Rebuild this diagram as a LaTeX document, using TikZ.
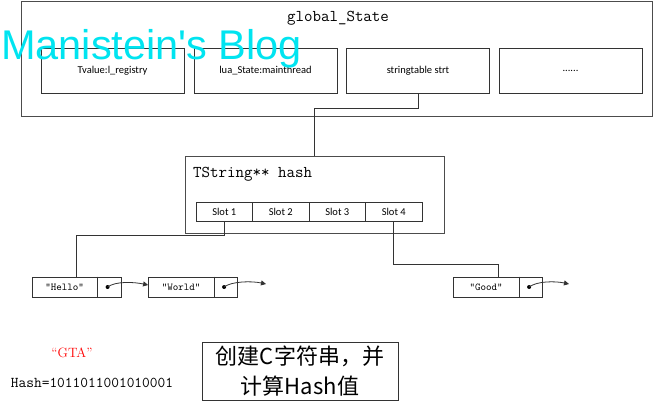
\documentclass[tikz,border=0pt]{standalone}
\usepackage{fontspec}
\newfontfamily\carl{Carlito}
\newfontfamily\wmfont{Liberation Sans}
\newfontfamily\cjk{Noto Sans CJK SC}
\usetikzlibrary{arrows.meta}
\definecolor{wmcyan}{RGB}{0,228,240}
\begin{document}
\begin{tikzpicture}[x=1pt,y=-1pt,
  box/.style={draw=black!80, line width=0.8pt, inner sep=0pt},
  outerbox/.style={draw=black!70, line width=1pt, inner sep=0pt},
  fieldbox/.style={box, minimum width=143pt, minimum height=45pt, font=\carl\fontsize{10.5}{12}\selectfont},
  slotbox/.style={box, minimum width=56.5pt, minimum height=19pt, font=\carl\fontsize{10.5}{12}\selectfont},
  listbox/.style={box, minimum width=89pt, minimum height=20pt},
  listtext/.style={inner sep=0pt, font=\ttfamily\fontsize{10.5}{12}\selectfont},
  titletext/.style={inner sep=0pt, font=\ttfamily\fontsize{16.5}{18}\selectfont},
  wire/.style={draw=black!80, line width=0.8pt},
  ptr/.style={wire, -{Triangle[length=5pt,width=5pt]}},
  cbox/.style={box, minimum width=196pt, minimum height=58pt, align=center, font=\cjk\fontsize{22}{30}\selectfont}
]
\useasboundingbox (0,0) rectangle (655,414);

% global_State
\node[outerbox, minimum width=631pt, minimum height=115pt] (gs) at (336.5,59.5) {};
\node[titletext] (gstitle) at (338,18) {global\_State};
\node[fieldbox] (treg) at (112.5,70.5) {Tvalue:l\_registry};
\node[fieldbox] (mth) at (265.5,70.5) {lua\_State:mainthread};
\node[fieldbox] (strt) at (418,70.5) {stringtable strt};
\node[fieldbox] (more) at (570.5,70.5) {......};

% TString hash
\node[outerbox, minimum width=259pt, minimum height=76pt] (hash) at (314.5,195) {};
\node[titletext, anchor=west] (hashtitle) at (193,174) {TString** hash};
\node[slotbox] (s1) at (224.25,211.5) {Slot 1};
\node[slotbox] (s2) at (280.75,211.5) {Slot 2};
\node[slotbox] (s3) at (337.25,211.5) {Slot 3};
\node[slotbox] (s4) at (393.75,211.5) {Slot 4};

% lists
\node[listbox] (hello) at (76.5,287) {};
\node[listbox] (world) at (193,287) {};
\node[listbox] (good) at (498,287) {};
\foreach \n/\t in {hello/“Hello”, world/“World”, good/“Good”}{
  \node[listtext] at ([xshift=33pt]\n.west) {\t};
  \draw[wire] ([xshift=66pt]\n.north west) -- ([xshift=66pt]\n.south west);
  \fill ([xshift=76pt]\n.west) circle (2pt);
}
\coordinate (wend) at (266,284);
\coordinate (gend) at (569,284);
\draw[ptr] ([xshift=76pt]hello.west) .. controls +(8,-6) and +(-14,-3) .. ([yshift=2pt]world.west);
\draw[ptr] ([xshift=76pt]world.west) .. controls +(8,-6) and +(-14,-3) .. (wend);
\draw[ptr] ([xshift=76pt]good.west) .. controls +(8,-6) and +(-14,-3) .. (gend);

% connectors
\draw[wire] (strt.south) -- ++(0,15) -| (hash.north);
\draw[wire] (s1.south) -- ++(0,14) -| (hello.north);
\draw[wire] (s4.south) -- ++(0,43) -| (good.north);

% bottom texts
\node[inner sep=0pt, text=red, font=\fontsize{13.5}{16}\selectfont] (gta) at (72,353) {“GTA”};
\node[inner sep=0pt, font=\ttfamily\fontsize{15}{18}\selectfont] (hv) at (92,383) {Hash=1011011001010001};
\node[cbox] (cb) at (300,371) {创建C字符串，并\\计算Hash值};

% watermark
\node[anchor=base west, inner sep=0pt, text=wmcyan, font=\wmfont\fontsize{41.5}{42}\selectfont] (wm) at (1,60) {Manistein\textquotesingle s Blog};
\end{tikzpicture}
\end{document}
